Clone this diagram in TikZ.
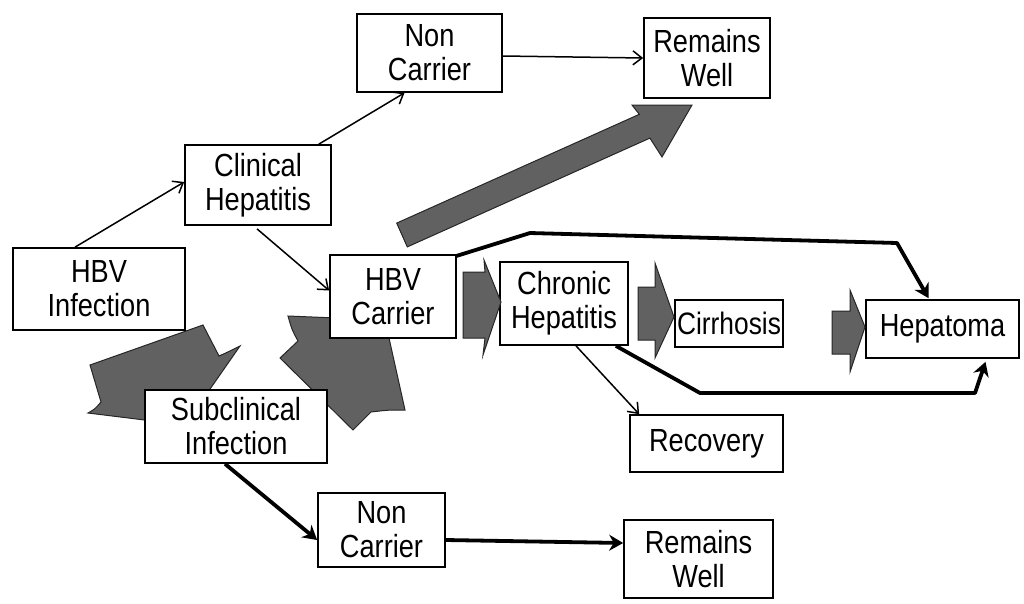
\documentclass[tikz,border=0pt]{standalone}
\usepackage{fontspec}
\setmainfont[FakeStretch=0.85]{Liberation Sans}
\usetikzlibrary{arrows.meta,calc,backgrounds}
\begin{document}
\begin{tikzpicture}[x=1pt,y=-1pt,
  box/.style={draw=black, line width=1.7pt, fill=white, align=center, inner sep=0pt,
    font=\fontsize{32}{34}\selectfont},
  thinarr/.style={line width=1.5pt, -{Straight Barb[length=9pt,width=14pt,line width=1.5pt]}},
  thickarr/.style={line width=3.8pt, line join=round, -{Stealth[length=14pt,width=16pt]}},
  bigarrow/.style={fill=black!62, draw=black!85, line width=1pt, line join=miter},
]
\useasboundingbox (0,0) rectangle (1024,603);

% boxes
\node[box, minimum width=145pt, minimum height=78pt] (nc1) at (429.5,53) {Non\\Carrier};
\node[box, minimum width=126pt, minimum height=80pt] (rw1) at (707,58) {Remains\\Well};
\node[box, minimum width=146pt, minimum height=80pt] (ch) at (258,185) {Clinical\\Hepatitis};
\node[box, minimum width=172pt, minimum height=82pt] (hi) at (99,289) {HBV\\Infection};
\node[box, minimum width=126pt, minimum height=83pt] (hc) at (393,296.5) {HBV\\Carrier};
\node[box, minimum width=128pt, minimum height=83pt] (chr) at (564,303.5) {Chronic\\Hepatitis};
\node[box, minimum width=108pt, minimum height=47pt, font=\fontsize{31}{34}\selectfont] (ci) at (729,323.5) {Cirrhosis};
\node[box, minimum width=153pt, minimum height=58pt] (hp) at (942.5,329) {Hepatoma};
\node[box, minimum width=153pt, minimum height=57pt] (rec) at (706.5,443.5) {Recovery};
\node[box, minimum width=182pt, minimum height=73pt] (sub) at (236,426.5) {Subclinical\\Infection};
\node[box, minimum width=127pt, minimum height=74pt] (nc2) at (381.5,530) {Non\\Carrier};
\node[box, minimum width=149pt, minimum height=78pt] (rw2) at (698.5,559) {Remains\\Well};

% big shaded arrows (behind the boxes)
\begin{scope}[on background layer]
  % HBV Infection -> Subclinical Infection
  \path[bigarrow] (90,365) -- (203,325) -- (219,356) .. controls (228,352) .. (240,346)
     -- (185,425) -- (88,413) .. controls (95,409) .. (101,402) -- cycle;
  % Subclinical Infection -> HBV Carrier
  \path[bigarrow] (280,358) -- (298,341) .. controls (292,330) .. (288,316)
     -- (385,320) -- (405,410) .. controls (388,410) .. (371,412) -- (353,430) -- cycle;
\end{scope}

% long shaded arrow towards Remains Well
\path[bigarrow] (396.7,223.1) -- (639.3,114.3) -- (632,105) -- (692,105)
   -- (662,157) -- (649.9,138.1) -- (407.3,246.9) -- cycle;

% short shaded arrows along the chain
\path[bigarrow] (463,272) -- (485,272) -- (484,260) -- (501,302)
   -- (483,355) -- (485,338) -- (463,338) -- cycle;
\path[bigarrow] (638,287) -- (655,287) -- (655,263) -- (674,317)
   -- (655,358) -- (655,340) -- (638,340) -- cycle;
\path[bigarrow] (832,311) -- (850,311) -- (850,290) -- (865,327)
   -- (850,372) -- (850,354) -- (832,354) -- cycle;

% thin arrows
\draw[thinarr] ($(hi.north)+(-24,0)$) -- ($(ch.west)+(0,-3)$);
\draw[thinarr] ($(ch.north east)+(-13,0)$) -- ($(nc1.south)+(-25,0)$);
\draw[thinarr] ($(nc1.east)+(0,3)$) -- (rw1.west);
\draw[thinarr] ($(ch.south)+(-1,3)$) -- ($(hc.west)+(0,-6)$);
\draw[thinarr] ($(chr.south)+(12,0)$) -- ($(rec.north west)+(10,0)$);

% thick arrows
\draw[thickarr] ($(hc.north east)+(-1,2)$) -- (530,233) -- (897,243) -- ($(hp.north)+(-14,-1)$);
\draw[thickarr] ($(chr.south east)+(-13,0)$) -- (700,393) -- (975,393) -- ($(hp.south)+(43,3)$);
\draw[thickarr] ($(sub.south)+(-11,0)$) -- ($(nc2.west)+(0,10)$);
\draw[thickarr] ($(nc2.east)+(0,10)$) -- ($(rw2.west)+(0,-16)$);
\end{tikzpicture}
\end{document}
